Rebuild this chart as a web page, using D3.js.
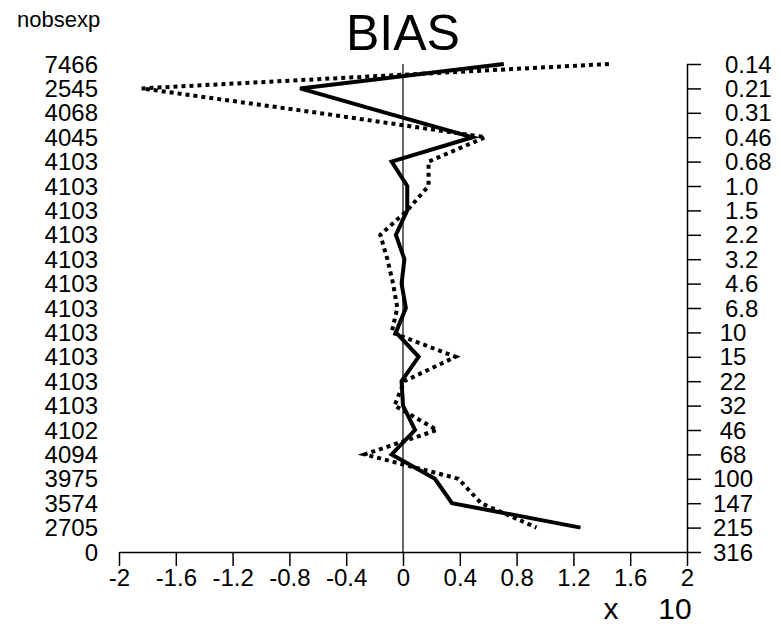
<!DOCTYPE html>
<html>
<head>
<meta charset="utf-8">
<script src="https://cdn.jsdelivr.net/npm/d3@7"></script>
<style>
  html, body { margin: 0; padding: 0; background: #fff; }
  svg { display: block; font-family: "Liberation Sans", Arial, sans-serif; }
</style>
</head>
<body>
<svg id="chart" width="781" height="624"></svg>
<script>
// Size classes (right axis labels), top to bottom
const sizeLabels = ["0.14","0.21","0.31","0.46","0.68","1.0","1.5","2.2","3.2","4.6","6.8","10","15","22","32","46","68","100","147","215","316"];
// Number of observations per class (left column)
const nobsexp = ["7466","2545","4068","4045","4103","4103","4103","4103","4103","4103","4103","4103","4103","4103","4103","4102","4094","3975","3574","2705","0"];
// Bias series (units of x10), one value per class except the last
const biasSolid  = [0.71,-0.725,-0.12,0.49,-0.08,0.03,0.03,-0.05,0.01,-0.01,0.02,-0.05,0.11,-0.01,0.0,0.085,-0.08,0.225,0.345,1.25];
const biasDotted = [1.45,-1.84,-0.60,0.58,0.18,0.18,0.03,-0.16,-0.11,-0.07,-0.04,-0.08,0.37,0.01,-0.06,0.24,-0.27,0.39,0.55,0.94];
// x-axis ticks
const xTicks = [-2,-1.6,-1.2,-0.8,-0.4,0,0.4,0.8,1.2,1.6,2];
const xTickLabels = ["-2","-1.6","-1.2","-0.8","-0.4","0","0.4","0.8","1.2","1.6","2"];

const svg = d3.select("#chart");
const x = d3.scaleLinear().domain([-2, 2]).range([119, 687]);
const y = d3.scalePoint().domain(sizeLabels).range([64, 552]);
const x0 = x(0), yBottom = y(sizeLabels[sizeLabels.length - 1]);

// Title
svg.append("text").attr("x", x0).attr("y", 50).attr("text-anchor", "middle")
  .attr("font-size", 50).text("BIAS");

// Column header
svg.append("text").attr("x", 17).attr("y", 27).attr("font-size", 22).text("nobsexp");

// Left column of counts
svg.append("g").selectAll("text").data(nobsexp).join("text")
  .attr("x", 98).attr("y", (d, i) => y(sizeLabels[i]))
  .attr("dy", "0.36em").attr("text-anchor", "end").attr("font-size", 24)
  .text(d => d);

// Bottom axis
const xAxis = d3.axisBottom(x).tickValues(xTicks)
  .tickFormat((d, i) => xTickLabels[i]).tickSize(14).tickSizeOuter(0).tickPadding(3);
const gx = svg.append("g").attr("transform", `translate(0,${yBottom})`).call(xAxis);
gx.selectAll("path, line").attr("stroke", "#000").attr("stroke-width", 1.5);
gx.selectAll("text").attr("font-size", 24).attr("font-family", "Liberation Sans, Arial, sans-serif").attr("fill", "#000");

// Right axis
const yAxis = d3.axisRight(y).tickSize(14).tickSizeOuter(0).tickFormat("");
const gy = svg.append("g").attr("transform", `translate(${x(2)},0)`).call(yAxis);
gy.selectAll("path, line").attr("stroke", "#000").attr("stroke-width", 1.5);
svg.append("g").selectAll("text").data(sizeLabels).join("text")
  .attr("x", d => d.includes(".") ? x(2) + 38 : x(2) + 46)
  .attr("text-anchor", d => d.includes(".") ? "start" : "middle")
  .attr("y", d => y(d)).attr("dy", "0.36em").attr("font-size", 24)
  .text(d => d);

// Zero line
svg.append("line").attr("x1", x0).attr("x2", x0).attr("y1", y(sizeLabels[0])).attr("y2", yBottom)
  .attr("stroke", "#000").attr("stroke-width", 1.2);

// Multiplier
svg.append("text").attr("x", 611).attr("y", 619).attr("text-anchor", "middle").attr("font-size", 30).text("x");
svg.append("text").attr("x", 675).attr("y", 619).attr("text-anchor", "middle").attr("font-size", 30).text("10");

// Series
const line = d3.line().x(d => x(d.v)).y(d => y(d.k));
const toPts = arr => arr.map((v, i) => ({ v, k: sizeLabels[i] }));
svg.append("path").datum(toPts(biasDotted)).attr("d", line)
  .attr("fill", "none").attr("stroke", "#000").attr("stroke-width", 4)
  .attr("stroke-dasharray", "4,4").attr("stroke-linejoin", "miter");
svg.append("path").datum(toPts(biasSolid)).attr("d", line)
  .attr("fill", "none").attr("stroke", "#000").attr("stroke-width", 4)
  .attr("stroke-linejoin", "miter");
</script>
</body>
</html>
